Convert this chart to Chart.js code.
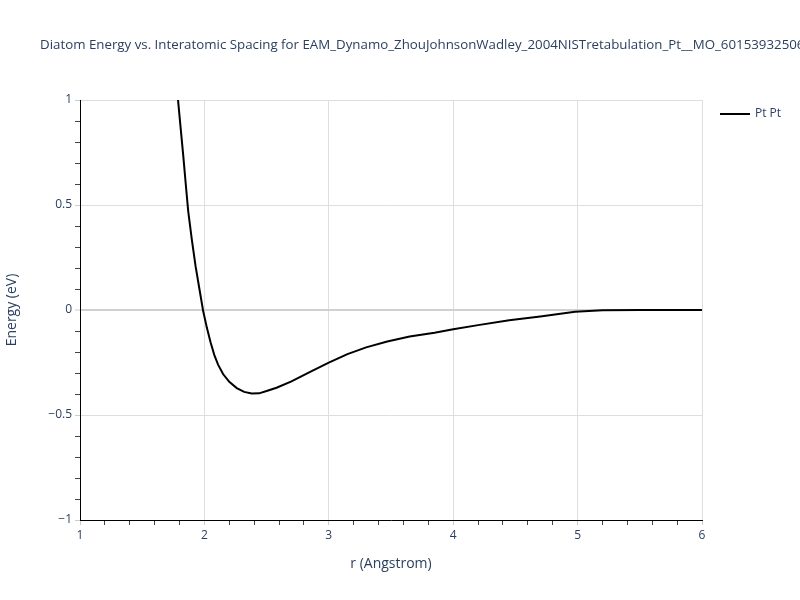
<!DOCTYPE html>
<html>
<head>
<meta charset="utf-8">
<script src="https://cdn.jsdelivr.net/npm/chart.js@4/dist/chart.umd.min.js"></script>
<style>
html,body{margin:0;padding:0;background:#fff;}
#wrap{width:800px;height:600px;position:relative;}
</style>
</head>
<body>
<div id="wrap"><canvas id="c" width="800" height="600"></canvas></div>
<script>
const chartTitle = "Diatom Energy vs. Interatomic Spacing for EAM_Dynamo_ZhouJohnsonWadley_2004NISTretabulation_Pt__MO_601539325066_000";
const seriesName = "Pt Pt";
const rValues = [1.788, 1.81, 1.83, 1.85, 1.87, 1.90, 1.93, 1.96, 1.99, 2.02, 2.05, 2.08, 2.11, 2.15, 2.20, 2.26, 2.32, 2.38, 2.44, 2.50, 2.58, 2.70, 2.85, 3.00, 3.15, 3.30, 3.47, 3.65, 3.85, 4.00, 4.20, 4.45, 4.70, 4.98, 5.20, 5.50, 6.00];
const energyValues = [1.0, 0.86, 0.735, 0.60, 0.47, 0.33, 0.205, 0.10, -0.005, -0.085, -0.155, -0.215, -0.26, -0.305, -0.342, -0.372, -0.39, -0.398, -0.397, -0.386, -0.37, -0.34, -0.295, -0.251, -0.21, -0.178, -0.15, -0.126, -0.108, -0.092, -0.072, -0.049, -0.031, -0.008, -0.001, 0, 0];
const xTickLabels = ["1", "2", "3", "4", "5", "6"];
const yTickLabels = ["\u22121", "\u22120.5", "0", "0.5", "1"];

const textColor = "#2a3f5f";
const fontFam = '"Open Sans", Verdana, Arial, sans-serif';

function isMult(v, step){ const q = v/step; return Math.abs(q - Math.round(q)) < 1e-6; }

const titleLegendPlugin = {
  id: 'titleLegend',
  afterDraw(chart){
    const ctx = chart.ctx;
    ctx.save();
    ctx.fillStyle = textColor;
    ctx.font = '13.3px ' + fontFam;
    ctx.textBaseline = 'middle';
    ctx.textAlign = 'left';
    ctx.fillText(chartTitle, 40, 45);
    ctx.strokeStyle = '#000';
    ctx.lineWidth = 2;
    ctx.beginPath(); ctx.moveTo(720, 114); ctx.lineTo(750, 114); ctx.stroke();
    ctx.font = '12px ' + fontFam;
    ctx.fillText(seriesName, 755, 114);
    ctx.restore();
  }
};

new Chart(document.getElementById('c'), {
  type: 'line',
  data: {
    datasets: [{
      label: seriesName,
      data: rValues.map((r, i) => ({x: r, y: energyValues[i]})),
      borderColor: '#000',
      borderWidth: 2,
      pointRadius: 0,
      tension: 0,
      fill: false
    }]
  },
  options: {
    responsive: false,
    animation: false,
    layout: { padding: { top: 100, right: 98, left: 0, bottom: 0 } },
    plugins: { legend: { display: false }, title: { display: false }, tooltip: { enabled: false } },
    scales: {
      x: {
        type: 'linear', min: 1, max: 6,
        afterFit: s => { s.height = 80; },
        ticks: {
          stepSize: 0.2, maxTicksLimit: 100, autoSkip: false, maxRotation: 0, padding: 3,
          color: textColor, font: { family: fontFam, size: 12 },
          callback: v => isMult(v, 1) ? xTickLabels[Math.round(v) - 1] : ''
        },
        grid: {
          drawTicks: true, tickLength: 5, tickWidth: 1,
          color: c => (c.tick && isMult(c.tick.value, 1)) ? '#dedede' : 'rgba(0,0,0,0)',
          tickColor: c => (c.tick && isMult(c.tick.value, 1)) ? '#cccccc' : '#444444',
          lineWidth: 1
        },
        border: { color: '#000', width: 1 },
        title: { display: true, text: 'r (Angstrom)', color: textColor, font: { family: fontFam, size: 14 }, padding: { top: 4, bottom: 28 } }
      },
      y: {
        type: 'linear', min: -1, max: 1,
        afterFit: s => { s.width = 80; },
        ticks: {
          stepSize: 0.1, maxTicksLimit: 100, autoSkip: false, padding: 3,
          color: textColor, font: { family: fontFam, size: 12 },
          callback: v => isMult(v, 0.5) ? yTickLabels[Math.round(v * 2) + 2] : ''
        },
        grid: {
          drawTicks: true, tickLength: 5, tickWidth: 1,
          color: c => {
            if (!c.tick) return 'rgba(0,0,0,0)';
            if (Math.abs(c.tick.value) < 1e-6) return '#d0d0d0';
            return isMult(c.tick.value, 0.5) ? '#dedede' : 'rgba(0,0,0,0)';
          },
          lineWidth: c => (c.tick && Math.abs(c.tick.value) < 1e-6) ? 2 : 1,
          tickColor: c => (c.tick && isMult(c.tick.value, 0.5)) ? '#cccccc' : '#444444'
        },
        border: { color: '#000', width: 1 },
        title: { display: true, text: 'Energy (eV)', color: textColor, font: { family: fontFam, size: 14 }, padding: { top: 4, bottom: 4 } }
      }
    }
  },
  plugins: [titleLegendPlugin]
});
</script>
</body>
</html>
